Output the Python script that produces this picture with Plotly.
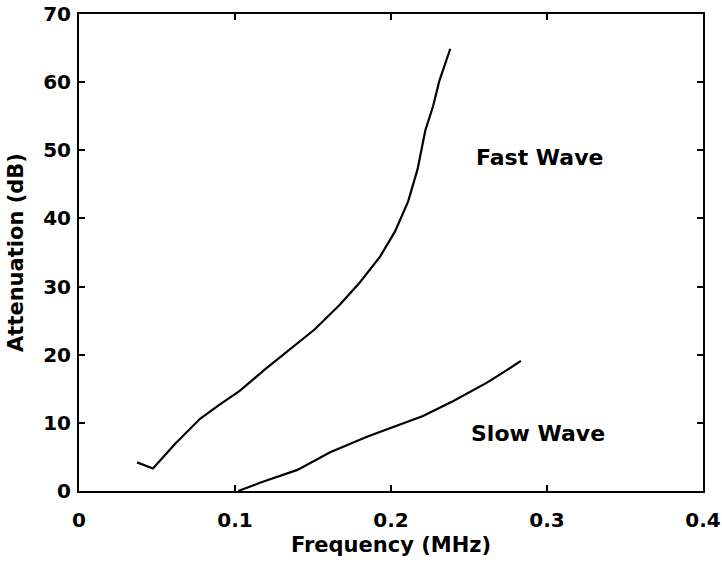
import plotly.graph_objects as go

# Fast wave attenuation vs. frequency
fast_freq = [0.0372, 0.0474, 0.0615, 0.0776, 0.089, 0.103, 0.119, 0.135, 0.151,
             0.167, 0.180, 0.193, 0.2026, 0.211, 0.217, 0.222, 0.227, 0.231, 0.238]
fast_att = [4.2, 3.3, 6.9, 10.6, 12.5, 14.7, 17.8, 20.7, 23.7,
            27.3, 30.6, 34.4, 38.1, 42.5, 47.2, 52.9, 56.5, 60.2, 64.9]

# Slow wave attenuation vs. frequency
slow_freq = [0.102, 0.116, 0.140, 0.161, 0.185, 0.2205, 0.240, 0.2615, 0.272, 0.2833]
slow_att = [0.0, 1.2, 3.1, 5.7, 8.0, 11.0, 13.2, 15.9, 17.4, 19.1]

x_ticks = [0, 0.1, 0.2, 0.3, 0.4]
x_tick_text = ["0", "0.1", "0.2", "0.3", "0.4"]
y_ticks = [0, 10, 20, 30, 40, 50, 60, 70]

FONT = "DejaVu Sans"

fig = go.Figure()
for fx, fy in [(fast_freq, fast_att), (slow_freq, slow_att)]:
    fig.add_trace(go.Scatter(x=fx, y=fy, mode="lines",
                             line=dict(color="black", width=2.2),
                             showlegend=False))

fig.add_annotation(x=0.2955, y=48.9, text="<b>Fast Wave</b>", showarrow=False,
                   font=dict(family=FONT, size=22, color="black"))
fig.add_annotation(x=0.294, y=8.5, text="<b>Slow Wave</b>", showarrow=False,
                   font=dict(family=FONT, size=22, color="black"))

axis_common = dict(showgrid=False, zeroline=False, showline=True,
                   linecolor="black", linewidth=2, mirror="ticks",
                   ticks="inside", ticklen=6, tickwidth=1.5, tickcolor="black",
                   automargin=False,
                   tickfont=dict(family=FONT, size=20, color="black"))

fig.update_xaxes(range=[0, 0.4], tickvals=x_ticks,
                 ticktext=[f"<b>{t}</b>" for t in x_tick_text],
                 ticklabelstandoff=10,
                 title=dict(text="<b>Frequency (MHz)</b>", standoff=6,
                            font=dict(family=FONT, size=21, color="black")),
                 **axis_common)
fig.update_yaxes(range=[0, 70], tickvals=y_ticks,
                 ticktext=[f"<b>{t}</b>" for t in y_ticks],
                 ticklabelstandoff=2,
                 title=dict(text="<b>Attenuation (dB)</b>", standoff=14,
                            font=dict(family=FONT, size=21, color="black")),
                 **axis_common)

fig.update_layout(width=722, height=564,
                  margin=dict(l=79, r=19, t=14, b=73),
                  plot_bgcolor="white", paper_bgcolor="white")

fig.write_html("out.html")
